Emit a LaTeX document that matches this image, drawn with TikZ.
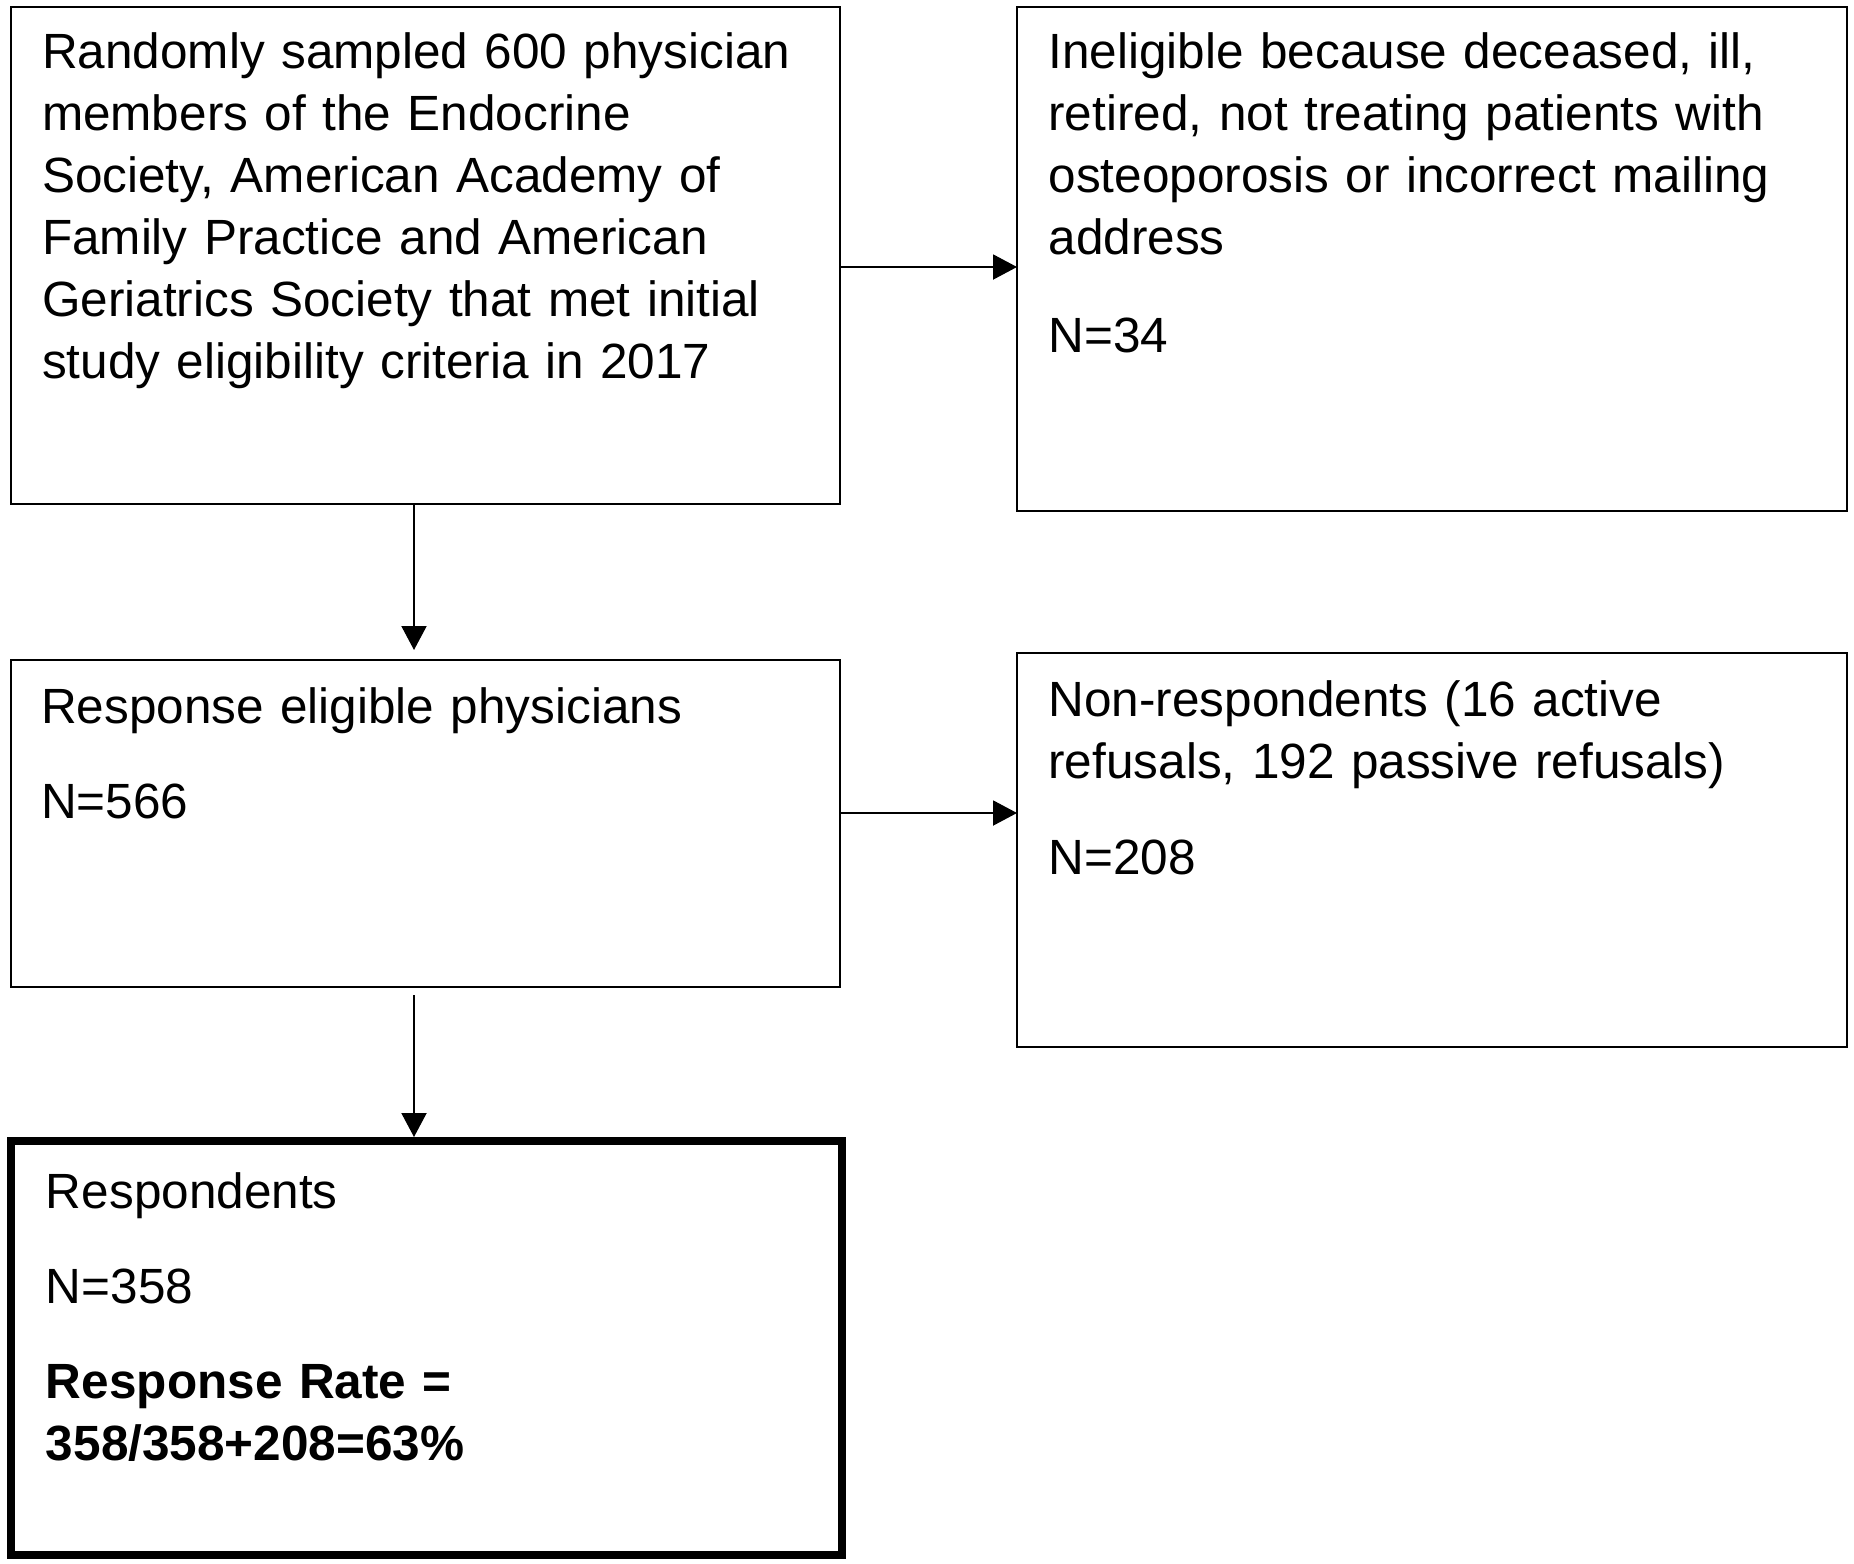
\documentclass[tikz,border=0pt]{standalone}
\usepackage{fontspec}
\setmainfont{Liberation Sans}
\usetikzlibrary{arrows.meta}
\begin{document}
\begin{tikzpicture}[x=0.5pt,y=-0.5pt,
  box/.style={draw=black, line width=1pt, anchor=north west, inner sep=0pt, outer sep=0pt},
  thickbox/.style={box, line width=4pt},
  txt/.style={anchor=base west, inner sep=0pt, outer sep=0pt, text width=410pt, align=left,
    font=\fontsize{24.75pt}{31pt}\selectfont},
  arr/.style={draw=black, line width=1pt, -{Triangle[length=12pt,width=12.5pt]}}]
\useasboundingbox (0,0) rectangle (1854,1564);

% boxes
\node[box, minimum width=414.5pt, minimum height=248.5pt] (b1) at (11,7) {};
\node[box, minimum width=415pt, minimum height=252pt] (b2) at (1017,7) {};
\node[box, minimum width=414.5pt, minimum height=163.5pt] (b3) at (11,660) {};
\node[box, minimum width=415pt, minimum height=197pt] (b4) at (1017,653) {};
\node[thickbox, minimum width=415.5pt, minimum height=207pt] (b5) at (11,1141) {};

% texts
\node[txt] (t1) at (42,68.5) {Randomly sampled 600 physician\\members of the Endocrine\\Society, American Academy of\\Family Practice and American\\Geriatrics Society that met initial\\study eligibility criteria in 2017};
\node[txt] (t2) at (1048.5,68.5) {Ineligible because deceased, ill,\\retired, not treating patients with\\osteoporosis or incorrect mailing\\address\\[18pt]N=34};
\node[txt] (t3) at (41,723) {Response eligible physicians\\[16.5pt]N=566};
\node[txt] (t4) at (1048.5,716) {Non-respondents (16 active\\refusals, 192 passive refusals)\\[17pt]N=208};
\node[txt] (t5) at (46,1208) {Respondents\\[16.5pt]N=358\\[16.5pt]\textbf{Response Rate =}\\\textbf{358/358+208=63\%}};

% connectors
\path (b1.east) ++(0,11.5) coordinate (p1);
\draw[arr] (p1) -- (p1 -| b2.west);
\path (b1.south) ++(-11.5,0) coordinate (p2);
\path (b3.north) ++(-11.5,-10) coordinate (q2);
\draw[arr] (p2) -- (q2);
\path (b3.east) ++(0,-10.5) coordinate (p3);
\draw[arr] (p3) -- (p3 -| b4.west);
\path (b3.south) ++(-11.5,8) coordinate (p4);
\path (b5.north) ++(-11.5,-4) coordinate (q4);
\draw[arr] (p4) -- (p4 |- q4);
\end{tikzpicture}
\end{document}
